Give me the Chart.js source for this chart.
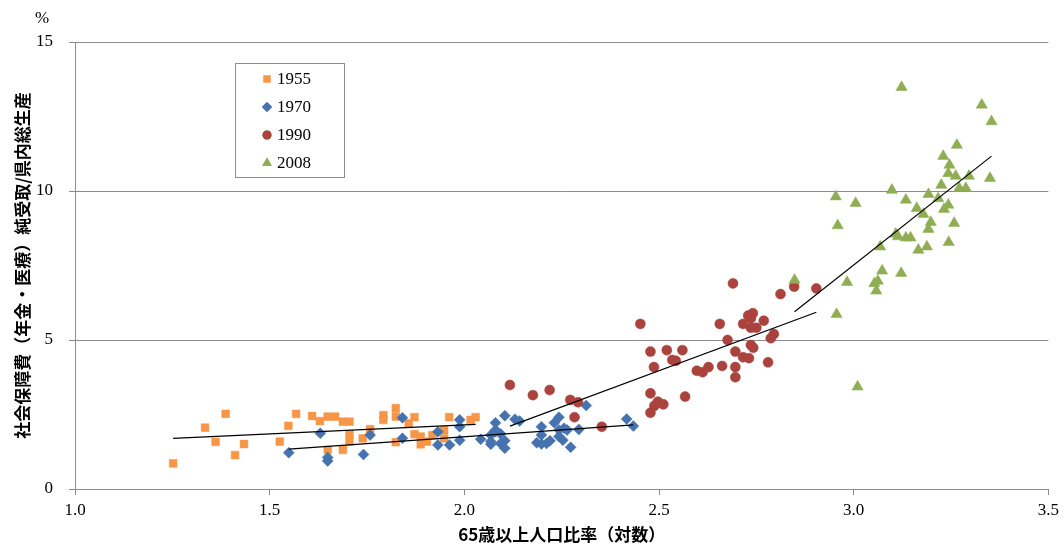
<!DOCTYPE html>
<html>
<head>
<meta charset="utf-8">
<script src="https://cdn.jsdelivr.net/npm/chart.js@4.4.1/dist/chart.umd.min.js"></script>
<style>
  html, body { margin: 0; padding: 0; background: #fff; }
</style>
</head>
<body>
<canvas id="chart" width="1064" height="545"></canvas>
<script>
// values: x = log of over-65 share, y = % of prefectural GDP
const x1955 = [1.252, 1.334, 1.387, 1.361, 1.411, 1.434, 1.526, 1.548, 1.568, 1.609, 1.629, 1.649, 1.668, 1.688, 1.705, 1.705, 1.705, 1.688, 1.649, 1.758, 1.739, 1.792, 1.792, 1.824, 1.824, 1.824, 1.857, 1.872, 1.872, 1.888, 1.888, 1.904, 1.918, 1.948, 1.948, 1.961, 2.016, 2.029];
const y1955 = [0.86, 2.06, 2.52, 1.58, 1.14, 1.51, 1.59, 2.12, 2.52, 2.45, 2.28, 2.43, 2.43, 2.26, 2.26, 1.84, 1.59, 1.31, 1.31, 2.01, 1.70, 2.48, 2.32, 2.71, 2.43, 1.57, 2.20, 2.41, 1.84, 1.76, 1.50, 1.59, 1.81, 1.98, 1.70, 2.41, 2.32, 2.41];

const x1970 = [1.549, 1.630, 1.649, 1.649, 1.741, 1.758, 1.841, 1.841, 1.932, 1.932, 1.962, 1.988, 1.988, 1.988, 2.042, 2.068, 2.068, 2.068, 2.080, 2.080, 2.080, 2.093, 2.093, 2.104, 2.104, 2.104, 2.130, 2.142, 2.198, 2.198, 2.186, 2.198, 2.211, 2.220, 2.231, 2.243, 2.243, 2.256, 2.264, 2.243, 2.253, 2.273, 2.294, 2.313, 2.417, 2.434];
const y1970 = [1.22, 1.87, 1.06, 0.94, 1.16, 1.81, 2.39, 1.70, 1.92, 1.48, 1.48, 2.32, 2.09, 1.64, 1.67, 1.81, 1.59, 1.50, 2.22, 1.92, 1.98, 1.85, 1.53, 1.62, 1.37, 2.46, 2.34, 2.28, 2.09, 1.81, 1.55, 1.51, 1.53, 1.62, 2.22, 2.41, 1.98, 2.04, 1.98, 1.76, 1.64, 1.40, 2.00, 2.80, 2.35, 2.11];

const x1990 = [2.117, 2.176, 2.219, 2.272, 2.292, 2.283, 2.353, 2.452, 2.478, 2.487, 2.478, 2.497, 2.488, 2.511, 2.478, 2.520, 2.534, 2.543, 2.560, 2.567, 2.597, 2.612, 2.627, 2.656, 2.662, 2.676, 2.690, 2.696, 2.696, 2.696, 2.716, 2.716, 2.731, 2.729, 2.741, 2.736, 2.736, 2.750, 2.736, 2.742, 2.769, 2.780, 2.787, 2.795, 2.812, 2.847, 2.904];
const y1990 = [3.49, 3.15, 3.32, 2.99, 2.91, 2.41, 2.09, 5.54, 4.61, 4.09, 3.21, 2.93, 2.79, 2.84, 2.56, 4.66, 4.33, 4.30, 4.66, 3.10, 3.97, 3.92, 4.09, 5.54, 4.13, 5.00, 6.90, 4.61, 4.09, 3.75, 5.54, 4.42, 4.39, 5.82, 5.90, 5.73, 5.41, 5.41, 4.83, 4.74, 5.65, 4.25, 5.06, 5.20, 6.54, 6.79, 6.73];

const x2008 = [3.123, 3.329, 3.354, 3.265, 3.230, 3.246, 3.243, 3.262, 3.296, 3.350, 3.225, 3.271, 3.288, 3.098, 3.192, 3.217, 3.134, 2.954, 3.005, 3.243, 3.232, 3.162, 3.179, 3.198, 3.258, 3.192, 2.959, 3.108, 3.114, 3.134, 3.146, 3.068, 3.166, 3.188, 3.244, 3.073, 3.122, 2.983, 3.053, 3.062, 3.058, 2.848, 2.956, 3.010];
const y2008 = [13.48, 12.89, 12.33, 11.54, 11.17, 10.87, 10.59, 10.50, 10.50, 10.43, 10.20, 10.09, 10.09, 10.03, 9.89, 9.75, 9.70, 9.81, 9.59, 9.53, 9.39, 9.42, 9.22, 8.95, 8.92, 8.72, 8.84, 8.56, 8.47, 8.43, 8.43, 8.13, 8.02, 8.13, 8.28, 7.32, 7.24, 6.94, 6.90, 6.98, 6.65, 7.01, 5.86, 3.43];

// fitted trend line end points for each year
const trendX1955 = [1.252, 2.029];
const trendY1955 = [1.70, 2.17];
const trendX1970 = [1.549, 2.434];
const trendY1970 = [1.34, 2.15];
const trendX1990 = [2.117, 2.904];
const trendY1990 = [2.11, 5.93];
const trendX2008 = [2.848, 3.354];
const trendY2008 = [5.95, 11.17];

const years = ['1955', '1970', '1990', '2008'];
const xTicks = [1.0, 1.5, 2.0, 2.5, 3.0, 3.5];
const yTicks = [0, 5, 10, 15];

const colors = ['#F79646', '#4673B0', '#AA423E', '#8FAD52'];
const shapes = ['rect', 'rectRot', 'circle', 'triangle'];
const radii = [5.5, 5.5, 5, 6.5];

const toPts = (xs, ys) => xs.map((x, i) => ({ x: x, y: ys[i] }));

const scatterSets = [
    [x1955, y1955], [x1970, y1970], [x1990, y1990], [x2008, y2008]
].map((s, i) => ({
    type: 'scatter',
    label: years[i],
    data: toPts(s[0], s[1]),
    pointStyle: shapes[i],
    pointRadius: radii[i],
    backgroundColor: colors[i],
    borderColor: colors[i],
    borderWidth: 0.5,
    order: 4 - i
}));

const trendSets = [
    [trendX1955, trendY1955], [trendX1970, trendY1970],
    [trendX1990, trendY1990], [trendX2008, trendY2008]
].map((t, i) => ({
    type: 'line',
    label: 'trend ' + years[i],
    data: toPts(t[0], t[1]),
    borderColor: '#000',
    borderWidth: 1.2,
    pointRadius: 0,
    fill: false,
    order: 0
}));

const grey = '#8C8C8C';

// legend box and the "%" unit label
const extras = {
    id: 'extras',
    afterDraw(chart) {
        const ctx = chart.ctx;
        ctx.save();
        ctx.fillStyle = '#000';
        ctx.font = '17px "Liberation Serif"';
        ctx.textAlign = 'center';
        ctx.textBaseline = 'middle';
        ctx.fillText('%', 42, 19);

        ctx.strokeStyle = grey;
        ctx.lineWidth = 1;
        ctx.strokeRect(235.5, 63.5, 109, 114);
        ctx.textAlign = 'left';
        const legendR = [5, 5, 4.5, 5.5];
        years.forEach((yr, i) => {
            const cy = 79 + i * 28;
            ctx.fillStyle = colors[i];
            Chart.helpers.drawPoint(ctx, { pointStyle: shapes[i], radius: legendR[i], borderWidth: 0 }, 267, cy);
            ctx.fill();
            ctx.fillStyle = '#000';
            ctx.fillText(yr, 277, cy + 1);
        });
        ctx.restore();
    }
};

new Chart(document.getElementById('chart'), {
    data: { datasets: scatterSets.concat(trendSets) },
    options: {
        responsive: false,
        animation: false,
        layout: { padding: { top: 42, right: 13, left: 0, bottom: 0 } },
        plugins: {
            legend: { display: false },
            tooltip: { enabled: false }
        },
        scales: {
            x: {
                type: 'linear',
                min: 1,
                max: 3.5,
                afterFit: s => { s.height = 56; },
                afterBuildTicks: s => { s.ticks = xTicks.map(v => ({ value: v })); },
                ticks: {
                    color: '#000',
                    padding: 5,
                    font: { family: '"Liberation Serif"', size: 17 },
                    callback: v => v.toFixed(1)
                },
                grid: { drawOnChartArea: false, drawTicks: true, tickLength: 6, color: grey },
                border: { color: grey, width: 1 },
                title: {
                    display: true,
                    text: '65歳以上人口比率（対数）',
                    color: '#000',
                    padding: { top: 0, bottom: 0 },
                    font: { family: '"Noto Sans CJK JP"', size: 17, weight: 'bold' }
                }
            },
            y: {
                type: 'linear',
                min: 0,
                max: 15,
                afterFit: s => { s.width = 75; },
                afterBuildTicks: s => { s.ticks = yTicks.map(v => ({ value: v })); },
                ticks: {
                    color: '#000',
                    padding: 16,
                    font: { family: '"Liberation Serif"', size: 17 }
                },
                grid: { color: grey, tickLength: 6, lineWidth: 1 },
                border: { color: grey, width: 1 },
                title: {
                    display: true,
                    text: '社会保障費（年金・医療）純受取/県内総生産',
                    color: '#000',
                    padding: { top: 12, bottom: 0 },
                    font: { family: '"Noto Sans CJK JP"', size: 17, weight: 'bold' }
                }
            }
        }
    },
    plugins: [extras]
});
</script>
</body>
</html>
